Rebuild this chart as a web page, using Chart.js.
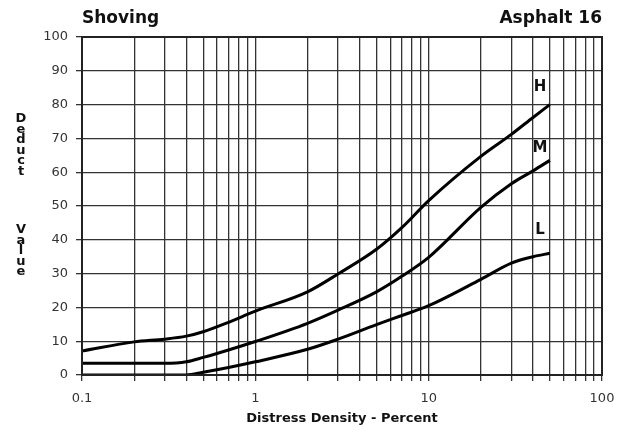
<!DOCTYPE html>
<html>
<head>
<meta charset="utf-8">
<script src="https://cdn.jsdelivr.net/npm/chart.js@4/dist/chart.umd.min.js"></script>
<style>
  html, body { margin: 0; padding: 0; background: #fff; }
  #wrap { width: 631px; height: 433px; position: relative; }
</style>
</head>
<body>
<div id="wrap"><canvas id="c" width="631" height="433"></canvas></div>
<script>
// ---- data ----
const densityPct = [0.1, 0.2, 0.3, 0.4, 0.5, 0.7, 1, 2, 3, 5, 7, 10, 20, 30, 40, 50];
const highValues = [7.1, 9.8, 10.6, 11.5, 12.8, 15.6, 18.9, 24.6, 29.9, 37.2, 43.6, 51.6, 64.7, 71.2, 76.2, 80];
const mediumValues = [3.5, 3.5, 3.45, 3.9, 5.2, 7.4, 9.9, 15.3, 19.2, 24.6, 29.2, 34.8, 49.6, 56.6, 60.4, 63.5];
const lowValues = [0, 0, 0, 0, 0.8, 2.2, 3.9, 7.6, 10.6, 14.9, 17.6, 20.5, 28.3, 33.1, 35, 36];
const seriesNames = ['H', 'M', 'L'];
const seriesLabelAnchorX = [43.9, 43.9, 43.9];
const seriesLabelAnchorY = [85.3, 67.1, 42.9];
const xTickLabels = ['0.1', '1', '10', '100'];
const xMajorValues = [0.1, 1, 10, 100];
const yTickValues = [0, 10, 20, 30, 40, 50, 60, 70, 80, 90, 100];
const chartTitleLeft = 'Shoving';
const chartTitleRight = 'Asphalt 16';
const xAxisTitle = 'Distress Density - Percent';
const yAxisTitleWords = ['Deduct', 'Value'];

function toPoints(xs, ys) { return xs.map((x, i) => ({ x: x, y: ys[i] })); }

const lineStyle = {
  borderColor: '#000', borderWidth: 3, pointRadius: 0, fill: false,
  cubicInterpolationMode: 'monotone'
};

const decorPlugin = {
  id: 'decor',
  afterDraw(chart) {
    const ctx = chart.ctx;
    const a = chart.chartArea;
    const xs = chart.scales.x, ys = chart.scales.y;
    ctx.save();
    // frame
    ctx.strokeStyle = '#222';
    ctx.lineWidth = 2;
    ctx.strokeRect(a.left, a.top, a.right - a.left, a.bottom - a.top);
    // titles
    ctx.fillStyle = '#111';
    ctx.font = 'bold 17px "DejaVu Sans"';
    ctx.textBaseline = 'alphabetic';
    ctx.textAlign = 'left';
    ctx.fillText(chartTitleLeft, a.left, 23);
    ctx.textAlign = 'right';
    ctx.fillText(chartTitleRight, a.right, 23);
    // y axis title, stacked letters
    ctx.font = 'bold 13px "DejaVu Sans"';
    ctx.textAlign = 'center';
    const starts = [122, 233];
    yAxisTitleWords.forEach((w, wi) => {
      [...w].forEach((ch, i) => ctx.fillText(ch, 21, starts[wi] + i * 10.6));
    });
    // series labels
    ctx.font = 'bold 15px "DejaVu Sans"';
    ctx.textBaseline = 'middle';
    seriesNames.forEach((n, i) => {
      ctx.fillText(n, xs.getPixelForValue(seriesLabelAnchorX[i]), ys.getPixelForValue(seriesLabelAnchorY[i]));
    });
    ctx.restore();
  }
};

new Chart(document.getElementById('c'), {
  type: 'line',
  data: {
    datasets: [
      Object.assign({ label: 'H', data: toPoints(densityPct, highValues) }, lineStyle),
      Object.assign({ label: 'M', data: toPoints(densityPct, mediumValues) }, lineStyle),
      Object.assign({ label: 'L', data: toPoints(densityPct, lowValues) }, lineStyle)
    ]
  },
  options: {
    responsive: false,
    animation: false,
    devicePixelRatio: 1,
    layout: { padding: { left: 0, right: 29, top: 37, bottom: 6 } },
    plugins: { legend: { display: false }, tooltip: { enabled: false }, title: { display: false } },
    scales: {
      x: {
        type: 'logarithmic',
        min: 0.1, max: 100,
        afterBuildTicks(scale) {
          const t = [];
          for (let e = -1; e <= 1; e++) {
            for (let s = 1; s <= 9; s++) t.push({ value: parseFloat((s * Math.pow(10, e)).toPrecision(6)) });
          }
          t.push({ value: 100 });
          scale.ticks = t;
        },
        afterFit(scale) { scale.height = 52; },
        ticks: {
          autoSkip: false, maxRotation: 0, minRotation: 0, padding: 10,
          color: '#333',
          font: { family: '"DejaVu Sans"', size: 13 }, 
          callback(value) {
            const i = xMajorValues.findIndex(v => Math.abs(v - value) < v * 1e-6);
            return i >= 0 ? xTickLabels[i] : '';
          }
        },
        grid: { color: '#333', lineWidth: 1.3, tickLength: 6, drawTicks: true },
        border: { color: '#222', width: 2 },
        title: {
          display: true, text: xAxisTitle, color: '#111',
          font: { family: '"DejaVu Sans"', size: 13, weight: 'bold' },
          padding: { top: 0, bottom: 1 }
        }
      },
      y: {
        min: 0, max: 100,
        afterBuildTicks(scale) { scale.ticks = yTickValues.map(v => ({ value: v })); },
        afterFit(scale) { scale.width = 82; },
        ticks: {
          padding: 8, color: '#333',
          font: { family: '"DejaVu Sans"', size: 13 }
        },
        grid: { color: '#333', lineWidth: 1.3, tickLength: 6 },
        border: { color: '#222', width: 2 }
      }
    }
  },
  plugins: [decorPlugin]
});
</script>
</body>
</html>
